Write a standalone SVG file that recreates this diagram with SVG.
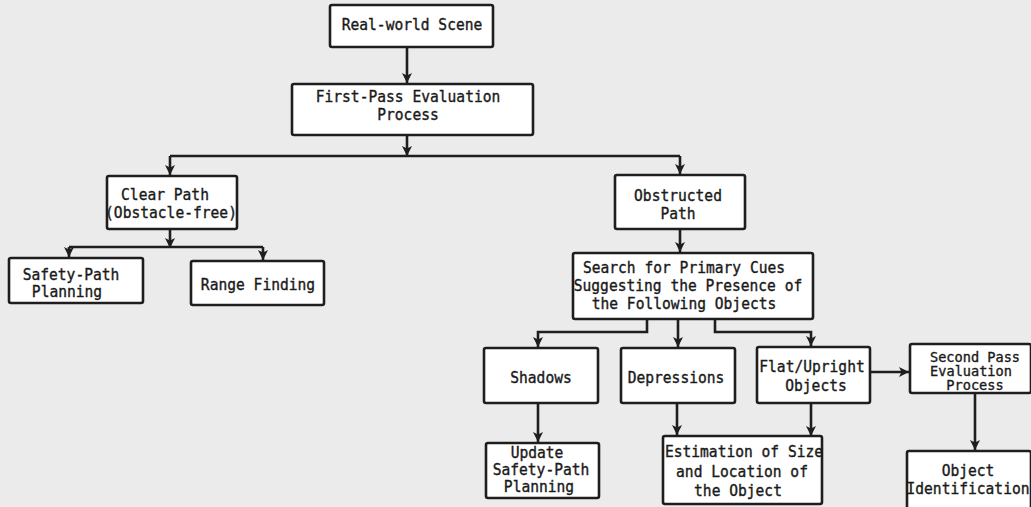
<svg xmlns="http://www.w3.org/2000/svg" width="1031" height="507" viewBox="0 0 1031 507">
<defs>
<style>
.box{fill:#ffffff;stroke:#1e1e1e;stroke-width:2.6;}
.t{font-family:"DejaVu Sans Mono","Liberation Mono",monospace;font-size:14.6px;fill:#1a1a1a;stroke:#1a1a1a;stroke-width:0.35;text-anchor:middle;}
.s{font-size:13.6px;}
.c{fill:none;stroke:#1e1e1e;stroke-width:2.6;}
</style>
<marker id="ah" markerUnits="userSpaceOnUse" markerWidth="12" markerHeight="12" refX="11" refY="6" orient="auto">
<path d="M1,1 L11,6 L1,11 L3.5,6 Z" fill="#1e1e1e"/>
</marker>
</defs>
<rect x="0" y="0" width="1031" height="507" fill="#ebebeb"/>

<g id="connectors">
<path class="c" d="M407,47 V83" marker-end="url(#ah)"/>
<path class="c" d="M407,135 V156" marker-end="url(#ah)"/>
<path class="c" d="M170,156 H680"/>
<path class="c" d="M170,156 V175" marker-end="url(#ah)"/>
<path class="c" d="M680,156 V174" marker-end="url(#ah)"/>
<path class="c" d="M170,229 V248" marker-end="url(#ah)"/>
<path class="c" d="M69,247 H263"/>
<path class="c" d="M69,247 V257" marker-end="url(#ah)"/>
<path class="c" d="M263,247 V260" marker-end="url(#ah)"/>
<path class="c" d="M680,229 V252" marker-end="url(#ah)"/>
<path class="c" d="M647,319 V332 H538 V347" marker-end="url(#ah)"/>
<path class="c" d="M678,319 V347" marker-end="url(#ah)"/>
<path class="c" d="M715,319 V332 H811 V346" marker-end="url(#ah)"/>
<path class="c" d="M538,403 V442" marker-end="url(#ah)"/>
<path class="c" d="M677,403 V435" marker-end="url(#ah)"/>
<path class="c" d="M811,403 V436" marker-end="url(#ah)"/>
<path class="c" d="M870,372 H909" marker-end="url(#ah)"/>
<path class="c" d="M975,393 V450" marker-end="url(#ah)"/>
</g>

<g id="real-world-scene">
<rect class="box" x="330" y="5" width="163" height="42" rx="2"/>
<text class="t" transform="translate(412,30) scale(1,1.12)">Real-world Scene</text>
</g>

<g id="first-pass">
<rect class="box" x="292" y="84" width="241" height="51" rx="2"/>
<text class="t" transform="translate(408,102) scale(1,1.12)">First-Pass Evaluation</text>
<text class="t" transform="translate(408,120) scale(1,1.12)">Process</text>
</g>

<g id="clear-path">
<rect class="box" x="107" y="176" width="130" height="53" rx="2"/>
<text class="t" transform="translate(165,200) scale(1,1.12)">Clear Path</text>
<text class="t" transform="translate(171,218) scale(1,1.12)">(Obstacle-free)</text>
</g>

<g id="safety-path-planning">
<rect class="box" x="9" y="258" width="134" height="45" rx="2"/>
<text class="t" transform="translate(71,280) scale(1,1.12)">Safety-Path</text>
<text class="t" transform="translate(67,297) scale(1,1.12)">Planning</text>
</g>

<g id="range-finding">
<rect class="box" x="191" y="261" width="133" height="44" rx="2"/>
<text class="t" transform="translate(258,290) scale(1,1.12)">Range Finding</text>
</g>

<g id="obstructed-path">
<rect class="box" x="615" y="175" width="130" height="54" rx="2"/>
<text class="t" transform="translate(678,201) scale(1,1.12)">Obstructed</text>
<text class="t" transform="translate(678,219) scale(1,1.12)">Path</text>
</g>

<g id="search">
<rect class="box" x="573" y="253" width="240" height="66" rx="2"/>
<text class="t" transform="translate(684,273) scale(1,1.12)">Search for Primary Cues</text>
<text class="t" transform="translate(688,291) scale(1,1.12)">Suggesting the Presence of</text>
<text class="t" transform="translate(684,309) scale(1,1.12)">the Following Objects</text>
</g>

<g id="shadows">
<rect class="box" x="484" y="348" width="114" height="55" rx="2"/>
<text class="t" transform="translate(541,383) scale(1,1.12)">Shadows</text>
</g>

<g id="depressions">
<rect class="box" x="621" y="348" width="114" height="55" rx="2"/>
<text class="t" transform="translate(676,383) scale(1,1.12)">Depressions</text>
</g>

<g id="flat-upright">
<rect class="box" x="757" y="347" width="113" height="56" rx="2"/>
<text class="t" transform="translate(812,372) scale(1,1.12)">Flat/Upright</text>
<text class="t" transform="translate(816,391) scale(1,1.12)">Objects</text>
</g>

<g id="second-pass">
<rect class="box" x="910" y="344" width="121" height="49" rx="2"/>
<text class="t s" x="975" y="362">Second Pass</text>
<text class="t s" x="971" y="375.5">Evaluation</text>
<text class="t s" x="975" y="389.5">Process</text>
</g>

<g id="update-safety-path">
<rect class="box" x="486" y="443" width="113" height="55" rx="2"/>
<text class="t" transform="translate(537,458) scale(1,1.08)">Update</text>
<text class="t" transform="translate(541,475) scale(1,1.08)">Safety-Path</text>
<text class="t" transform="translate(539,492) scale(1,1.08)">Planning</text>
</g>

<g id="estimation">
<rect class="box" x="663" y="436" width="159" height="68" rx="2"/>
<text class="t" transform="translate(744,457) scale(1,1.12)">Estimation of Size</text>
<text class="t" transform="translate(742,477) scale(1,1.12)">and Location of</text>
<text class="t" transform="translate(738,496) scale(1,1.12)">the Object</text>
</g>

<g id="object-identification">
<rect class="box" x="907" y="451" width="124" height="62" rx="2"/>
<text class="t" transform="translate(968,476) scale(1,1.12)">Object</text>
<text class="t" transform="translate(968,494) scale(1,1.12)">Identification</text>
</g>
</svg>
